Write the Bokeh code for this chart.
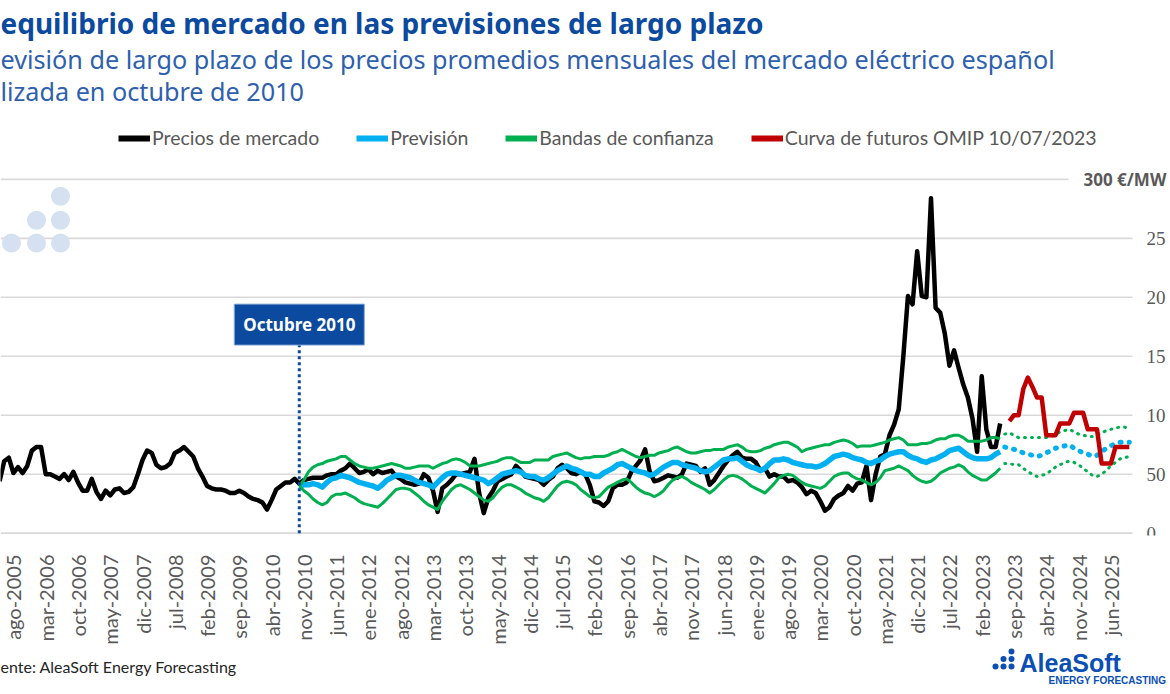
import math
from bokeh.plotting import figure
from bokeh.layouts import column
from bokeh.models import (FixedTicker, Label, LabelSet, Legend, LegendItem,
                          Range1d, ColumnDataSource)
from bokeh.core.properties import value
from bokeh.embed import file_html
from bokeh.resources import INLINE

# ---------------------------------------------------------------- data
MESES = ["ene", "feb", "mar", "abr", "may", "jun", "jul", "ago", "sep", "oct", "nov", "dic"]


def mes_idx(s):
    m, y = s.split("-")
    return (int(y) - 2005) * 12 + MESES.index(m)


inicio_precios = "may-2005"
precios_mercado = [
    44, 61, 64, 51, 56, 51, 57, 70, 73, 73, 50, 50, 48, 46, 50, 45, 52, 43, 36, 36,
    46, 35, 29, 36, 32, 37, 38, 34, 35, 39, 50, 62, 70, 68, 58, 55, 56, 59, 68, 70,
    73, 69, 65, 55, 48, 40, 38, 37, 37, 36, 34, 34, 36, 34, 31, 29, 28, 26, 20, 28,
    37, 40, 43, 43, 46, 42, 45, 46, 47, 47, 47, 49, 50, 50, 53, 55, 59, 55, 51, 52,
    54, 50, 53, 51, 52, 53, 48, 46, 43, 42, 41, 42, 50, 47, 36, 18, 38, 41, 45, 50,
    50, 51, 52, 63, 34, 17, 30, 36, 44, 46, 48, 50, 57, 53, 48, 47, 46, 45, 41, 45,
    48, 55, 58, 55, 51, 50, 52, 50, 41, 27, 26, 23, 27, 38, 41, 41, 43, 52, 57, 62,
    71, 52, 44, 45, 47, 49, 48, 47, 50, 59, 58, 57, 52, 55, 41, 45, 51, 57, 62, 66,
    69, 64, 63, 63, 60, 53, 55, 48, 50, 48, 48, 44, 45, 43, 39, 33, 36, 34, 27, 19,
    22, 29, 32, 34, 40, 36, 42, 43, 57, 28, 50, 65, 67, 83, 92, 105, 150, 201, 194, 239,
    201, 200, 284, 191, 187, 169, 142, 155, 140, 126, 115, 97, 69, 133, 88, 73, 73, 93,
]
ultimo_dato_real = "jun-2023"

inicio_prevision = "oct-2010"
prevision = [
    40, 41, 41, 42, 41, 39, 43, 46, 47, 49, 48, 47, 45, 43, 42, 41, 40, 38, 41, 45,
    47, 49, 49, 48, 47, 45, 43, 42, 41, 39, 43, 47, 50, 51, 51, 50, 49, 48, 47, 46,
    45, 42, 44, 47, 50, 51, 52, 53, 52, 49, 48, 48, 46, 45, 47, 50, 53, 55, 57, 55,
    54, 52, 50, 50, 48, 48, 51, 53, 55, 58, 59, 57, 55, 53, 52, 51, 49, 50, 53, 56,
    58, 60, 60, 58, 57, 56, 55, 53, 52, 53, 56, 59, 62, 63, 63, 64, 61, 58, 56, 55,
    53, 55, 59, 62, 62, 63, 62, 60, 59, 58, 57, 57, 56, 57, 59, 62, 65, 66, 67, 66,
    64, 63, 62, 60, 59, 61, 62, 65, 67, 68, 69, 69, 66, 64, 63, 61, 60, 62, 63, 65,
    67, 70, 71, 72, 69, 66, 64, 63, 63, 63, 64, 67, 69, 73, 72, 71, 70, 68, 67, 66,
    65, 66, 68, 70, 72, 73, 74, 75, 72, 70, 68, 67, 65, 66, 69, 72, 74, 76, 77, 77,
    77,
]
banda_superior = [
    40, 45, 52, 56, 58, 59, 61, 62, 63, 65, 65, 62, 59, 57, 56, 55, 55, 56, 57, 58,
    59, 58, 57, 55, 55, 56, 57, 57, 57, 55, 57, 59, 60, 62, 63, 62, 60, 57, 57, 57,
    58, 59, 60, 61, 63, 64, 64, 62, 60, 60, 60, 62, 62, 62, 62, 65, 66, 67, 68, 66,
    64, 63, 64, 64, 65, 65, 65, 66, 68, 69, 71, 69, 67, 65, 64, 65, 66, 66, 68, 69,
    70, 72, 73, 71, 69, 68, 68, 69, 70, 70, 71, 71, 71, 73, 74, 75, 73, 70, 69, 69,
    70, 72, 73, 75, 76, 77, 77, 75, 73, 69, 71, 72, 73, 74, 75, 75, 77, 78, 79, 78,
    76, 73, 74, 74, 74, 75, 76, 77, 79, 80, 81, 79, 75, 75, 75, 76, 76, 77, 79, 80,
    80, 82, 83, 83, 81, 78, 78, 78, 78, 79, 81, 81, 80, 84, 85, 83, 81, 81, 81, 81,
    81, 81, 81, 82, 83, 86, 87, 88, 86, 84, 83, 82, 82, 83, 85, 87, 88, 89, 90, 90,
    88,
]
banda_inferior = [
    40, 36, 33, 29, 26, 24, 26, 31, 33, 33, 34, 32, 30, 27, 25, 24, 23, 22, 25, 29,
    33, 37, 38, 38, 37, 34, 31, 27, 24, 22, 20, 27, 32, 37, 40, 41, 39, 37, 34, 31,
    28, 27, 30, 35, 39, 41, 41, 39, 37, 34, 32, 30, 29, 27, 30, 35, 40, 43, 44, 43,
    41, 37, 34, 31, 30, 31, 35, 39, 41, 43, 45, 46, 43, 39, 36, 34, 33, 31, 33, 36,
    41, 45, 47, 48, 46, 43, 41, 39, 37, 34, 37, 41, 45, 48, 49, 48, 46, 43, 40, 38,
    36, 34, 38, 42, 47, 49, 50, 49, 46, 43, 41, 40, 39, 38, 40, 44, 48, 50, 51, 51,
    48, 46, 45, 43, 41, 43, 47, 53, 54, 55, 57, 55, 53, 49, 46, 44, 43, 44, 47, 51,
    53, 55, 56, 58, 56, 52, 49, 47, 45, 45, 48, 51, 55, 59, 59, 58, 58, 55, 52, 50,
    48, 49, 50, 53, 56, 58, 60, 61, 60, 58, 55, 52, 49, 48, 50, 53, 57, 60, 63, 64,
    65,
]

inicio_omip = "ago-2023"
curva_omip = [95, 100, 100, 122, 132, 124, 115, 115, 83, 83, 83, 93, 93, 93,
              102, 102, 102, 88, 88, 88, 59, 59, 59, 73, 73, 73, 73]

etiquetas_x = ["ago-2005", "mar-2006", "oct-2006", "may-2007", "dic-2007", "jul-2008",
               "feb-2009", "sep-2009", "abr-2010", "nov-2010", "jun-2011", "ene-2012",
               "ago-2012", "mar-2013", "oct-2013", "may-2014", "dic-2014", "jul-2015",
               "feb-2016", "sep-2016", "abr-2017", "nov-2017", "jun-2018", "ene-2019",
               "ago-2019", "mar-2020", "oct-2020", "may-2021", "dic-2021", "jul-2022",
               "feb-2023", "sep-2023", "abr-2024", "nov-2024", "jun-2025"]
ticks_y = [0, 50, 100, 150, 200, 250]
etiquetas_y = ["0", "50", "10", "15", "20", "25"]
tope_y = 300
etiqueta_tope = "300 €/MW"

titulo = "equilibrio de mercado en las previsiones de largo plazo"
subtitulo_1 = "evisión de largo plazo de los precios promedios mensuales del mercado eléctrico español"
subtitulo_2 = "lizada en octubre de 2010"
fuente = "ente: AleaSoft Energy Forecasting"
marca_octubre = "Octubre 2010"
leyenda = ["Precios de mercado", "Previsión", "Bandas de confianza",
           "Curva de futuros OMIP 10/07/2023"]


# ---------------------------------------------------------------- series x
def meses_desde(inicio, n):
    s = mes_idx(inicio)
    return [s + i for i in range(n)]


x_precios = meses_desde(inicio_precios, len(precios_mercado))
x_prev = meses_desde(inicio_prevision, len(prevision))
corte = mes_idx(ultimo_dato_real) - mes_idx(inicio_prevision)
x_omip = meses_desde(inicio_omip, len(curva_omip))

# ---------------------------------------------------------------- layout constants
W = 1170
FRAME_H = 377
TOP_H, BOTTOM = 160, 110
MAIN_H = FRAME_H + BOTTOM
FOOT_H = 694 - TOP_H - MAIN_H
FRAME_TOP = TOP_H                       # page y of main frame top
FRAME_BOTTOM = TOP_H + FRAME_H          # page y of main frame bottom
X0 = 4.2                                # month at the left edge
PX_PER_MONTH = 4.611
Y0, Y1 = -2, 316
GRID_END_PX = 1132
TOP_GRID_END_PX = 1068

BLUE_DARK = "#0B4A9E"
BLUE_SUB = "#2E60AE"
GREY = "#595959"
C_BLACK = "#000000"
C_BLUE = "#00B0F0"
C_GREEN = "#00B050"
C_RED = "#C00000"
C_GRID = "#D9D9D9"


def dx(px):
    return X0 + px / PX_PER_MONTH


def dy(py):
    return Y0 + (FRAME_BOTTOM - py) / (FRAME_BOTTOM - FRAME_TOP) * (Y1 - Y0)


# ---------------------------------------------------------------- main chart
p = figure(width=W, height=MAIN_H, x_range=Range1d(X0, dx(W)), y_range=Range1d(Y0, Y1),
           output_backend="svg", toolbar_location=None, y_axis_location=None,
           min_border_left=0, min_border_right=0, min_border_top=0,
           min_border_bottom=BOTTOM, outline_line_color=None,
           background_fill_color="white", border_fill_color="white")
p.xgrid.visible = False
p.ygrid.visible = False

# horizontal grid lines (end before the value labels)
p.segment(x0=[X0] * len(ticks_y), y0=ticks_y, x1=[dx(GRID_END_PX)] * len(ticks_y),
          y1=ticks_y, line_color=C_GRID, line_width=1.6)
p.segment(x0=[X0], y0=[tope_y], x1=[dx(TOP_GRID_END_PX)], y1=[tope_y],
          line_color=C_GRID, line_width=1.6)

ax = p.xaxis[0]
ax.ticker = FixedTicker(ticks=[mes_idx(e) for e in etiquetas_x])
ax.major_label_overrides = {mes_idx(e): e for e in etiquetas_x}
ax.major_label_orientation = math.pi / 2
ax.axis_line_color = None
ax.major_tick_line_color = None
ax.minor_tick_line_color = None
ax.major_label_text_font = "Lato"
ax.major_label_text_font_size = "20px"
ax.major_label_text_color = GREY
ax.major_label_standoff = 13

# watermark dots (decoration)
wm_px = [(11, 243), (36, 220), (36, 243), (60, 196), (60, 220), (60, 243)]
p.circle(x=[dx(a) for a, b in wm_px], y=[dy(b) for a, b in wm_px], radius=9.5,
         radius_units="screen", fill_color="#D5E0F0", line_color=None)

# series
p.line(x_precios, precios_mercado, line_color=C_BLACK, line_width=4.5, line_join="round")
p.line(x_prev[:corte + 1], prevision[:corte + 1], line_color=C_BLUE, line_width=5.5,
       line_join="round")
p.line(x_prev[corte + 1:], prevision[corte + 1:], line_color=C_BLUE, line_width=5,
       line_dash="1 8", line_cap="round")
for banda in (banda_superior, banda_inferior):
    p.line(x_prev[:corte + 1], banda[:corte + 1], line_color=C_GREEN, line_width=3,
           line_join="round")
    p.line(x_prev[corte + 1:], banda[corte + 1:], line_color=C_GREEN, line_width=3,
           line_dash="1 6", line_cap="round")
p.line(x_omip, curva_omip, line_color=C_RED, line_width=4.5, line_join="round")

# Octubre 2010 marker
m_oct = mes_idx(inicio_prevision)
p.segment(x0=[m_oct], y0=[0], x1=[m_oct], y1=[dy(344)], line_color=BLUE_DARK,
          line_width=3, line_dash="3 3")
p.add_layout(Label(x=m_oct, y=dy(325), text=marca_octubre, text_align="center",
                   text_baseline="middle", text_color="white", text_font_style="bold",
                   text_font="Noto Sans", text_font_size="17px",
                   background_fill_color=BLUE_DARK, border_line_color="#8FB0DC",
                   border_line_width=1, padding=9))

# value labels on the right
src_y = ColumnDataSource(dict(y=ticks_y, t=etiquetas_y))
p.add_layout(LabelSet(x=1146, y="y", text="t", source=src_y, x_units="screen",
                      text_align="left", text_baseline="middle", text_font="Lato",
                      text_font_size="19px", text_color=GREY))
p.add_layout(Label(x=1083, y=tope_y, x_units="screen", text=etiqueta_tope,
                   text_align="left", text_baseline="middle", text_font="Noto Sans",
                   text_font_style="bold", text_font_size="17px", text_color=GREY))

# ---------------------------------------------------------------- header
t = figure(width=W, height=TOP_H, x_range=Range1d(0, W), y_range=Range1d(TOP_H, 0),
           output_backend="svg", toolbar_location=None, x_axis_location=None,
           y_axis_location=None, min_border=0, outline_line_color=None)
t.grid.visible = False
t.text(x=[0], y=[22], text=[titulo], text_font=value("Noto Sans"), text_font_style="bold",
       text_font_size="28px", text_color=BLUE_DARK, text_baseline="middle")
t.text(x=[0, 0], y=[58, 90], text=[subtitulo_1, subtitulo_2], text_font=value("Noto Sans"),
       text_font_size="25.2px", text_color=BLUE_SUB, text_baseline="middle")

leg_styles = [C_BLACK, C_BLUE, C_GREEN, C_RED]
leg_items = []
for lab, col in zip(leyenda, leg_styles):
    # swatch-only renderers, kept outside the visible range
    r = t.line(x=[-60, -50], y=[-60, -60], line_width=6, line_color=col)
    leg_items.append(LegendItem(label=lab, renderers=[r]))
legend = Legend(items=leg_items, orientation="horizontal", location=(118, TOP_H - 138 - 11),
                glyph_width=32, glyph_height=22, label_height=22, label_standoff=2,
                spacing=37, padding=0, margin=0, border_line_color=None,
                background_fill_alpha=0, label_text_font="Lato",
                label_text_font_size="19.5px", label_text_color=GREY)
t.add_layout(legend, "center")

# ---------------------------------------------------------------- footer
F0 = TOP_H + MAIN_H
f = figure(width=W, height=FOOT_H, x_range=Range1d(0, W), y_range=Range1d(FOOT_H, 0),
           output_backend="svg", toolbar_location=None, x_axis_location=None,
           y_axis_location=None, min_border=0, outline_line_color=None)
f.grid.visible = False
f.text(x=[0], y=[666 - F0], text=[fuente], text_font=value("Lato"), text_font_size="16px",
       text_color="#262626", text_baseline="middle")
logo_dots = [(995, 666), (1003, 658.5), (1003, 666), (1011, 651), (1011, 658.5), (1011, 666)]
f.circle(x=[a for a, b in logo_dots], y=[b - F0 for a, b in logo_dots], radius=3,
         fill_color="#0B4FB4", line_color=None)
f.text(x=[1019], y=[662 - F0], text=["AleaSoft"], text_font=value("Liberation Sans"),
       text_font_style="bold", text_font_size="25px", text_color="#0B4FB4",
       text_baseline="middle")
f.text(x=[1048], y=[680 - F0], text=["ENERGY FORECASTING"],
       text_font=value("Liberation Sans"), text_font_style="bold", text_font_size="10px",
       text_color="#0B4FB4", text_baseline="middle")

layout = column(t, p, f, spacing=0)
open("out.html", "w").write(file_html(layout, INLINE))
